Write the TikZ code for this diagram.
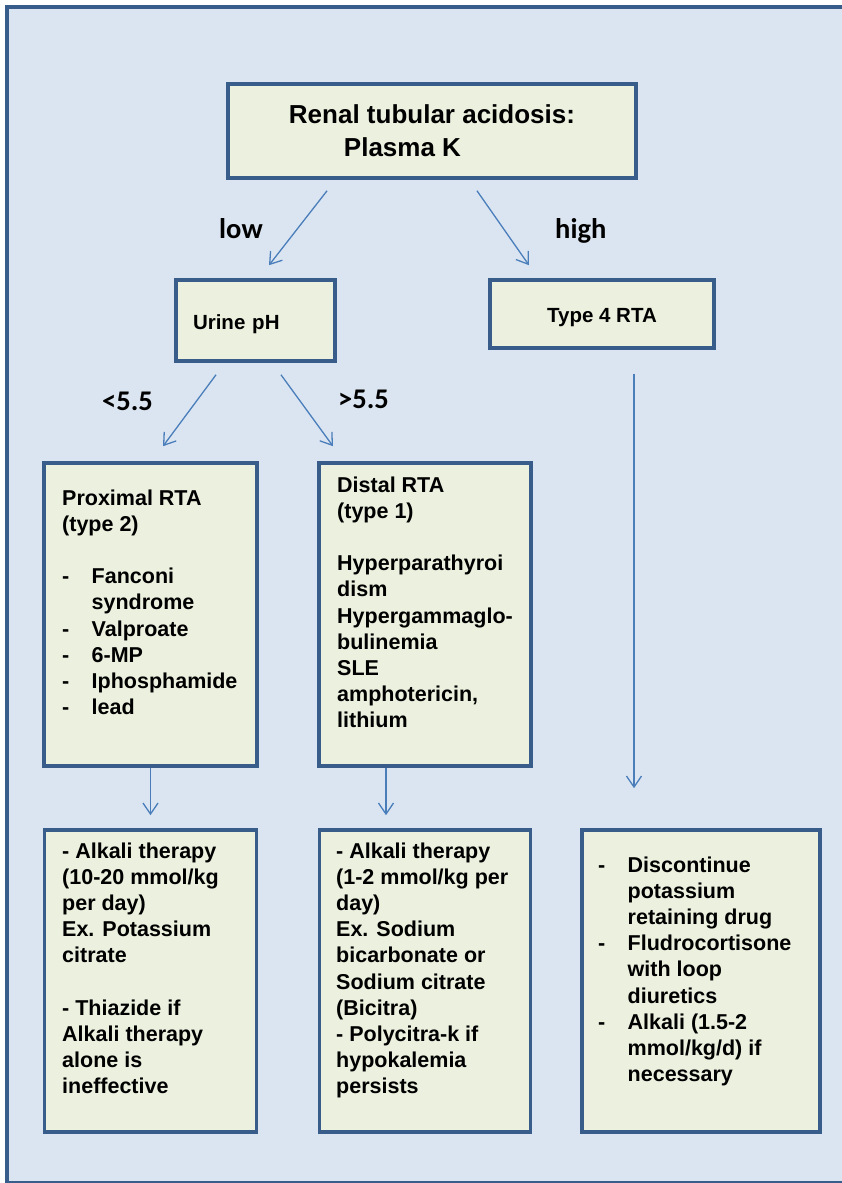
\documentclass[tikz,border=0pt]{standalone}
\usepackage{fontspec}
\setmainfont{Liberation Sans}
\newfontfamily\lblfont{Carlito}
\usetikzlibrary{arrows.meta}

\definecolor{pagebg}{HTML}{DBE5F1}
\definecolor{boxfill}{HTML}{EBF1DE}
\definecolor{boxline}{HTML}{385D8A}
\definecolor{arrowblue}{HTML}{4A7EBB}

\newcommand{\dashit}{\makebox[29.5pt][l]{-}}
\newcommand{\indentit}{\hspace*{29.5pt}}

\begin{document}
\begin{tikzpicture}
  [x=1pt,y=-1pt,
   box/.style={draw=boxline,fill=boxfill,line width=3.6pt,inner sep=0pt,font=\fontsize{20.5}{25}\selectfont\bfseries},
   txt/.style={anchor=base west,inner sep=0pt,font=\fontsize{21.5}{26.2}\selectfont\bfseries},
   lbl/.style={anchor=base west,inner sep=0pt,font=\lblfont\fontsize{28.5}{34}\selectfont\bfseries},
   arr/.style={draw=arrowblue,line width=1.3pt,-{Straight Barb[length=11pt,width=15pt]}}]
  \useasboundingbox (0,0) rectangle (842,1183);
  % frame
  \fill[pagebg] (5,5) rectangle (842,1183);
  \draw[boxline,line width=4pt] (7,1183) -- (7,7) -- (842,7);
  \draw[boxline,line width=1.5pt] (5,1182) -- (842,1182);
  % boxes
  \node[box,minimum width=408pt,minimum height=94pt,align=left,font=\fontsize{26}{33}\selectfont\bfseries] (top) at (432,131)
    {Renal tubular acidosis:\\\hspace*{55pt}Plasma K};
  \node[box,minimum width=159pt,minimum height=81pt,text width=125pt,align=left,text height=21pt,text depth=4pt] (urine) at (255.5,320.5) {Urine pH};
  \node[box,minimum width=224pt,minimum height=68pt,text height=20pt,text depth=4pt] (type4) at (602,314) {Type 4 RTA};
  \node[box,minimum width=213pt,minimum height=303pt] (prox) at (150.5,614.5) {};
  \node[box,minimum width=212pt,minimum height=303pt] (dist) at (425,614.5) {};
  \node[box,minimum width=212pt,minimum height=302pt] (lbox) at (150.5,981) {};
  \node[box,minimum width=211pt,minimum height=302pt] (mbox) at (425,981) {};
  \node[box,minimum width=238pt,minimum height=302pt] (rbox) at (701,981) {};
  % box texts
  \node[txt] (proxtxt) at (62,505) {\begin{tabular}[t]{@{}l@{}}
    Proximal RTA\\(type 2)\\ \\
    \dashit Fanconi\\\indentit syndrome\\\dashit Valproate\\\dashit 6-MP\\\dashit Iphosphamide\\\dashit lead
  \end{tabular}};
  \node[txt] (disttxt) at (337,492) {\begin{tabular}[t]{@{}l@{}}
    Distal RTA\\(type 1)\\ \\
    Hyperparathyroi\\dism\\Hypergammaglo-\\bulinemia\\SLE\\amphotericin,\\lithium
  \end{tabular}};
  \node[txt] (lboxtxt) at (62,858) {\begin{tabular}[t]{@{}l@{}}
    - Alkali therapy\\(10-20 mmol/kg\\per day)\\Ex. Potassium\\citrate\\ \\
    - Thiazide if\\Alkali therapy\\alone is\\ineffective
  \end{tabular}};
  \node[txt] (mboxtxt) at (336,858) {\begin{tabular}[t]{@{}l@{}}
    - Alkali therapy\\(1-2 mmol/kg per\\day)\\Ex. Sodium\\bicarbonate or\\Sodium citrate\\(Bicitra)\\
    - Polycitra-k if\\hypokalemia\\persists
  \end{tabular}};
  \node[txt] (rboxtxt) at (598,872) {\begin{tabular}[t]{@{}l@{}}
    \dashit Discontinue\\\indentit potassium\\\indentit retaining drug\\
    \dashit Fludrocortisone\\\indentit with loop\\\indentit diuretics\\
    \dashit Alkali (1.5-2\\\indentit mmol/kg/d) if\\\indentit necessary
  \end{tabular}};
  % branch labels
  \node[lbl] (low) at (219,238) {low};
  \node[lbl] (high) at (555,238) {high};
  \node[lbl] (acid) at (102,410) {<5.5};
  \node[lbl] (alk) at (338,408) {>5.5};
  % arrows
  \draw[arr] ([xshift=-105pt,yshift=-11pt]top.south) -- ([xshift=13.5pt,yshift=13pt]urine.north);
  \draw[arr] ([xshift=45pt,yshift=-11pt]top.south) -- ([xshift=-73pt,yshift=13pt]type4.north);
  \draw[arr] ([xshift=-39.5pt,yshift=-12pt]urine.south) -- ([xshift=12.5pt,yshift=15pt]prox.north);
  \draw[arr] ([xshift=25.5pt,yshift=-12pt]urine.south) -- ([xshift=-92pt,yshift=15pt]dist.north);
  \draw[arr] (prox.south) -- ([yshift=13pt]lbox.north);
  \draw[arr] ([xshift=-39pt]dist.south) -- ([xshift=-39pt,yshift=13pt]mbox.north);
  \draw[arr] ([xshift=32pt,yshift=-24pt]type4.south) -- ([xshift=-67pt,yshift=40pt]rbox.north);
\end{tikzpicture}
\end{document}
